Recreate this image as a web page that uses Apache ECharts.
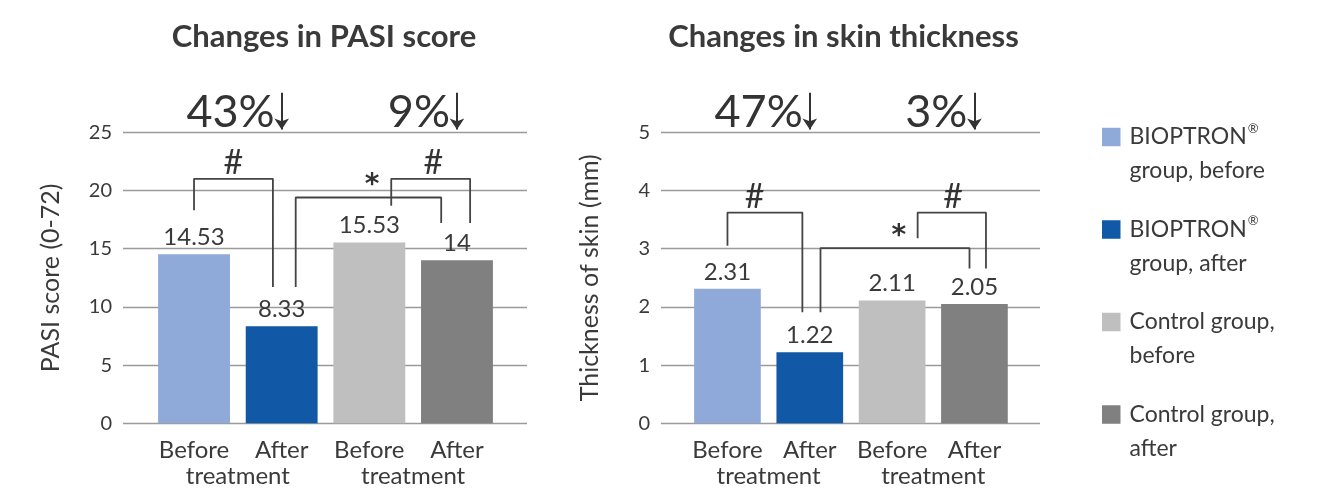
<!DOCTYPE html>
<html>
<head>
<meta charset="utf-8">
<script src="https://cdn.jsdelivr.net/npm/echarts@6/dist/echarts.min.js"></script>
<style>
html,body{margin:0;padding:0;background:#fff;}
#chart{width:1333px;height:503px;}
</style>
</head>
<body>
<div id="chart"></div>
<script>
// ---- data ----
const categories = ['Before', 'After', 'Before', 'After'];
const treatmentLabels = ['treatment', 'treatment'];
const seriesNames = ['BIOPTRON® group, before', 'BIOPTRON® group, after', 'Control group, before', 'Control group, after'];
const legendLines = [['BIOPTRON{r|®}', 'group, before'], ['BIOPTRON{r|®}', 'group, after'], ['Control group,', 'before'], ['Control group,', 'after']];
const barColors = ['#8FAAD8', '#1158A6', '#BFBFBF', '#808080'];

const pasiTitle = 'Changes in PASI score';
const pasiAxisName = 'PASI score (0-72)';
const pasiValues = [14.53, 8.33, 15.53, 14];
const pasiTicks = { min: 0, max: 25, interval: 5 };
const pasiChanges = [['43%', 1, 26.7], ['9%', 3, 26.7]];
const pasiArrows = [[1, 28.4, 25.25], [3, 28.4, 25.25]];
const pasiBrackets = [
  [[0, 18.3], [0, 21.0], [0.90, 21.0], [0.90, 11.7]],
  [[1.16, 11.7], [1.16, 19.4], [2.82, 19.4], [2.82, 17.2]],
  [[2.25, 18.7], [2.25, 21.0], [3.15, 21.0], [3.15, 17.2]]
];
const pasiMarks = [['#', 0.45, 22.4], ['*', 2.03, 20.4], ['#', 2.73, 22.4]];

const skinTitle = 'Changes in skin thickness';
const skinAxisName = 'Thickness of skin (mm)';
const skinValues = [2.31, 1.22, 2.11, 2.05];
const skinTicks = { min: 0, max: 5, interval: 1 };
const skinChanges = [['47%', 1, 5.34], ['3%', 3, 5.34]];
const skinArrows = [[1, 5.68, 5.05], [3, 5.68, 5.05]];
const skinBrackets = [
  [[0, 3.05], [0, 3.62], [0.91, 3.62], [0.91, 1.91]],
  [[1.13, 1.91], [1.13, 3.01], [2.94, 3.01], [2.94, 2.66]],
  [[2.31, 3.18], [2.31, 3.62], [3.14, 3.62], [3.14, 2.66]]
];
const skinMarks = [['#', 0.33, 3.89], ['*', 2.08, 3.2], ['#', 2.74, 3.89]];

// ---- option building ----
const FONT = 'Lato, "Noto Sans", sans-serif';
const TXT = '#3a3a3a';
const grids = [], xAxes = [], yAxes = [], series = [], graphics = [];

function addChart(c) {
  const gWide = grids.length;
  grids.push(c.wide);
  const gBar = grids.length;
  grids.push(c.bar);

  xAxes.push({ gridIndex: gWide, type: 'value', show: false, min: 0, max: 1 });
  yAxes.push({
    gridIndex: gWide, type: 'value', min: c.ticks.min, max: c.ticks.max, interval: c.ticks.interval,
    name: c.axisName, nameLocation: 'middle', nameGap: c.nameGap,
    nameTextStyle: { fontFamily: FONT, fontSize: 25, color: TXT },
    axisLine: { show: false }, axisTick: { show: false },
    axisLabel: { fontFamily: FONT, fontSize: 20, color: TXT, margin: 11 },
    splitLine: { lineStyle: { color: '#9a9a9a', width: 1.3 } }
  });

  const xCat = xAxes.length;
  xAxes.push({
    gridIndex: gBar, type: 'category', data: categories,
    axisLine: { show: false }, axisTick: { show: false },
    axisLabel: { fontFamily: FONT, fontSize: 24, color: TXT, margin: 15, interval: 0 }
  });
  xAxes.push({
    gridIndex: gBar, type: 'category', data: treatmentLabels, position: 'bottom',
    axisLine: { show: false }, axisTick: { show: false },
    axisLabel: { fontFamily: FONT, fontSize: 24, color: TXT, margin: 41, interval: 0 }
  });
  const xVal = xAxes.length;
  xAxes.push({ gridIndex: gBar, type: 'value', show: false, min: -0.5, max: 3.5 });
  const yBar = yAxes.length;
  yAxes.push({ gridIndex: gBar, type: 'value', show: false, min: c.ticks.min, max: c.ticks.max, interval: c.ticks.interval, splitLine: { show: false } });

  c.values.forEach((v, k) => {
    series.push({
      type: 'bar', name: seriesNames[k], stack: 'chart' + gBar,
      xAxisIndex: xCat, yAxisIndex: yBar,
      barCategoryGap: c.gap,
      itemStyle: { color: barColors[k] },
      label: { show: true, position: 'top', distance: 5, fontFamily: FONT, fontSize: 24, color: TXT },
      data: categories.map((_, i) => (i === k ? v : '-'))
    });
  });

  c.brackets.forEach(b => {
    series.push({
      type: 'line', xAxisIndex: xVal, yAxisIndex: yBar, symbol: 'none', silent: true, clip: false,
      lineStyle: { color: '#444', width: 1.8 }, data: b, z: 5
    });
  });

  series.push({
    type: 'scatter', xAxisIndex: xVal, yAxisIndex: yBar, symbolSize: 1, silent: true, clip: false,
    itemStyle: { color: '#fff', opacity: 0 },
    label: {
      show: true, position: 'inside', fontFamily: FONT, color: '#333', textBorderWidth: 0,
      formatter: p => (p.name === '*' ? '{s|*}' : '{h|' + p.name + '}'),
      rich: {
        h: { fontFamily: FONT, fontSize: 34, color: '#333' },
        s: { fontFamily: '"DejaVu Sans", sans-serif', fontSize: 28, fontWeight: 'bold', color: '#333' }
      }
    },
    data: c.marks.map(m => ({ name: m[0], value: [m[1], m[2]], label: { opacity: 1 } }))
  });

  series.push({
    type: 'scatter', xAxisIndex: xVal, yAxisIndex: yBar, symbolSize: 1, silent: true, clip: false,
    itemStyle: { color: '#fff', opacity: 0 },
    label: { show: true, position: 'inside', align: 'right', offset: [-7, 0], formatter: p => p.name, fontFamily: FONT, fontSize: 45, color: '#333', textBorderWidth: 0 },
    data: c.changes.map(m => ({ name: m[0], value: [m[1], m[2]], label: { opacity: 1 } }))
  });

  series.push({
    type: 'lines', coordinateSystem: 'cartesian2d', xAxisIndex: xVal, yAxisIndex: yBar, silent: true, clip: false,
    symbol: ['none', 'arrow'], symbolSize: [0, 11],
    lineStyle: { color: '#333', width: 2, opacity: 1 },
    data: c.arrows.map(a => ({ coords: [[a[0], a[1]], [a[0], a[2]]] }))
  });

  graphics.push({
    type: 'text', x: c.titleX, y: 37,
    style: { text: c.title, fontFamily: FONT, fontSize: 31, fontWeight: 'bold', fill: TXT, align: 'center', verticalAlign: 'middle' }
  });
}

addChart({
  wide: { left: 123, top: 132.3, width: 404, height: 291 },
  bar: { left: 150.2, top: 132.3, width: 350.6, height: 291 },
  ticks: pasiTicks, values: pasiValues, axisName: pasiAxisName, nameGap: 60, gap: '18%',
  brackets: pasiBrackets, marks: pasiMarks, changes: pasiChanges, arrows: pasiArrows,
  title: pasiTitle, titleX: 324
});
addChart({
  wide: { left: 661, top: 132.3, width: 379, height: 291 },
  bar: { left: 686.3, top: 132.3, width: 329.3, height: 291 },
  ticks: skinTicks, values: skinValues, axisName: skinAxisName, nameGap: 59, gap: '19%',
  brackets: skinBrackets, marks: skinMarks, changes: skinChanges, arrows: skinArrows,
  title: skinTitle, titleX: 843.5
});

const option = {
  backgroundColor: '#fff',
  animation: false,
  grid: grids,
  xAxis: xAxes,
  yAxis: yAxes,
  series: series,
  graphic: graphics,
  legend: {
    data: seriesNames, orient: 'vertical', left: 1097, top: 81,
    itemWidth: 18.5, itemHeight: 18.5, itemGap: -9.5, selectedMode: false,
    icon: 'rect',
    formatter: name => '\n' + legendLines[seriesNames.indexOf(name)].join('\n'),
    textStyle: {
      fontFamily: FONT, fontSize: 23, lineHeight: 34, color: TXT, padding: [0, 0, 0, 4],
      rich: {
        r: { fontFamily: FONT, fontSize: 13, lineHeight: 34, color: TXT, verticalAlign: 'top', padding: [2, 0, 0, 1] }
      }
    }
  }
};

const chart = echarts.init(document.getElementById('chart'), null, { renderer: 'canvas' });
chart.setOption(option);
</script>
</body>
</html>
